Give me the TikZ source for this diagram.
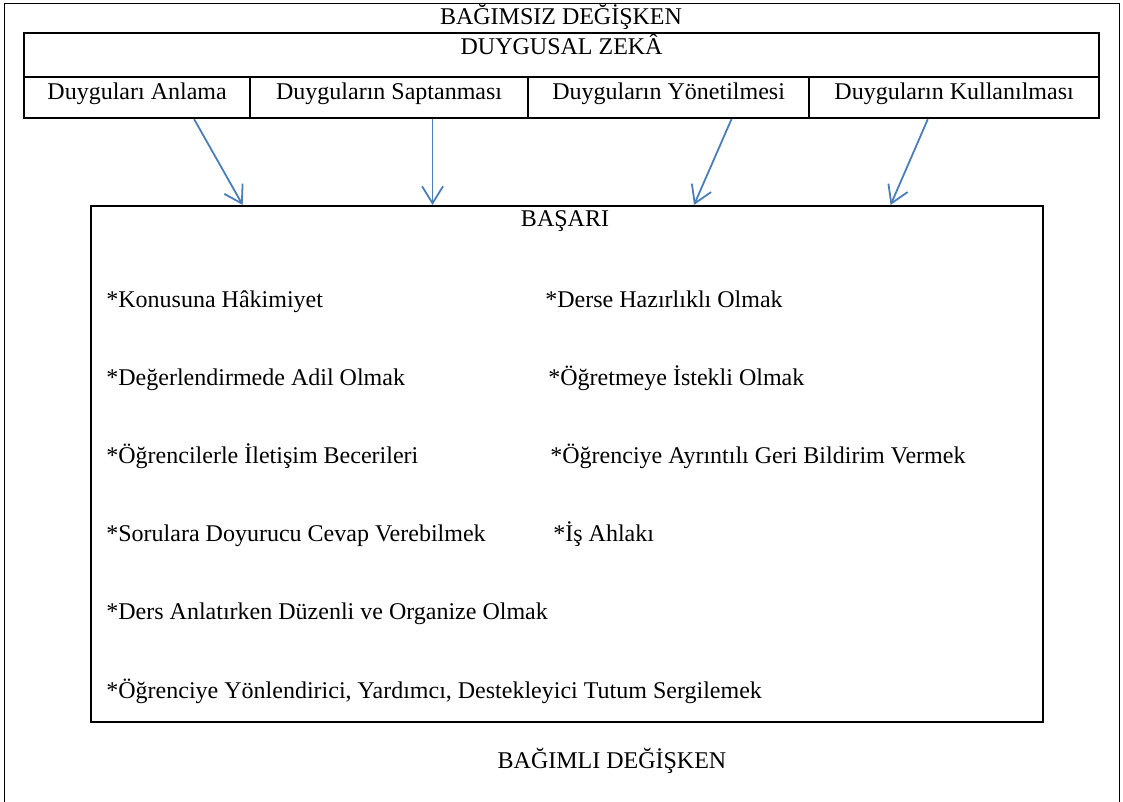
\documentclass[tikz,border=0pt]{standalone}
\usepackage{fontspec}
\setmainfont{Liberation Serif}
\usepackage{tikz}
\usetikzlibrary{calc}
\usetikzlibrary{arrows.meta}
\definecolor{okmavi}{RGB}{74,126,187}
\tikzset{
	kutu/.style={draw, line width=1.1pt, inner sep=0pt, anchor=north west},
	hucre/.style={kutu, minimum height=20.5pt, text height=7.2pt, text depth=5.7pt},
	yazi/.style={inner sep=0pt, anchor=base},
	madde/.style={inner sep=0pt, anchor=base west},
	ok/.style={draw=okmavi, line width=0.9pt, -{Straight Barb[length=8.5pt,width=10.5pt]}},
}

\begin{document}
\begin{tikzpicture}[x=0.5pt,y=-0.5pt, font=\fontsize{12pt}{14pt}\selectfont]
\useasboundingbox (0,0) rectangle (1123,802);
\draw[line width=0.5pt] (4,802) -- (4,4) -- (1119,4) -- (1119,802);
\node[yazi] (bagimsiz) at (561,25) {BAĞIMSIZ DEĞİŞKEN};
\node[kutu, minimum width=537.5pt, minimum height=22pt, text height=6pt, text depth=7pt] (zeka) at (23,32) {DUYGUSAL ZEKÂ};
\node[hucre, minimum width=113pt] (anlama) at (23,76) {Duyguları Anlama};
\node[hucre, minimum width=139pt] (saptanma) at (249,76) {Duyguların Saptanması};
\node[hucre, minimum width=140.5pt] (yonetim) at (527,76) {Duyguların Yönetilmesi};
\node[hucre, minimum width=145pt] (kullanim) at (808,76) {Duyguların Kullanılması};
\node[kutu, minimum width=476pt, minimum height=258pt] (basari) at (90,205) {};
\node[yazi] (basariyazi) at (565,227) {BAŞARI};
\node[madde] (konu) at (106,307) {*Konusuna Hâkimiyet};
\node[madde] (adil) at (106,385) {*Değerlendirmede Adil Olmak};
\node[madde] (iletisim) at (106,463) {*Öğrencilerle İletişim Becerileri};
\node[madde] (cevap) at (106,541) {*Sorulara Doyurucu Cevap Verebilmek};
\node[madde] (duzen) at (106,619) {*Ders Anlatırken Düzenli ve Organize Olmak};
\node[madde] (tutum) at (106,698) {*Öğrenciye Yönlendirici, Yardımcı, Destekleyici Tutum Sergilemek};
\node[madde] (hazirlik) at (545,307) {*Derse Hazırlıklı Olmak};
\node[madde] (istek) at (548,385) {*Öğretmeye İstekli Olmak};
\node[madde] (geri) at (550,463) {*Öğrenciye Ayrıntılı Geri Bildirim Vermek};
\node[madde] (ahlak) at (553,541) {*İş Ahlakı};
\node[yazi] (bagimli) at (612,768) {BAĞIMLI DEĞİŞKEN};
\coordinate (saptanmaok) at ($(saptanma.south west)!0.655!(saptanma.south east)$);
\draw[ok] ($(anlama.south west)!0.75!(anlama.south east)$) -- ($(basari.north west)!0.16!(basari.north east)$);
\draw[ok] (saptanmaok) -- (saptanmaok |- basari.north);
\draw[ok] ($(yonetim.south west)!0.722!(yonetim.south east)$) -- ($(basari.north west)!0.633!(basari.north east)$);
\draw[ok] ($(kullanim.south west)!0.41!(kullanim.south east)$) -- ($(basari.north west)!0.839!(basari.north east)$);
\end{tikzpicture}
\end{document}
